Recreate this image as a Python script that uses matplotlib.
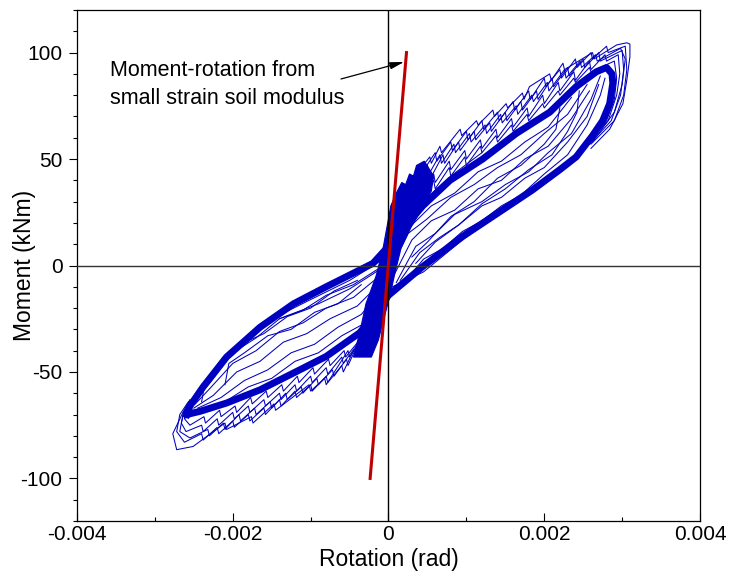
import matplotlib
matplotlib.use("Agg")
import matplotlib.pyplot as plt
import numpy as np
from matplotlib.ticker import MultipleLocator, FixedLocator, FixedFormatter

BLUE = "#0000c0"
RED = "#c00000"

plt.rcParams["font.family"] = ["Liberation Sans", "DejaVu Sans"]
plt.rcParams["axes.unicode_minus"] = False

# rotation in mrad, moment in kNm

# stable (repeated) loop - the thick band
band = [(-2.59, -70), (-2.55, -66), (-2.38, -57), (-2.08, -43), (-1.65, -29),
        (-1.22, -18), (-0.80, -10), (-0.20, 1), (0.00, 9), (0.44, 28),
        (0.79, 40), (1.21, 50), (1.64, 62), (2.07, 72), (2.41, 84),
        (2.67, 91), (2.80, 93), (2.87, 90), (2.88, 85.6), (2.84, 76),
        (2.75, 68), (2.62, 61), (2.41, 51), (2.20, 45), (1.85, 35.5),
        (1.60, 29.4), (0.95, 13.6), (0.44, -0.5), (0.00, -14), (-0.20, -24),
        (-0.37, -31.6), (-0.80, -42.7), (-1.22, -50.5), (-1.65, -58.4),
        (-2.08, -64.6), (-2.42, -68.5), (-2.59, -70)]

# dense small-amplitude cycles near the origin (outline)
core = [(-0.45, -43), (-0.36, -30), (-0.29, -18), (-0.16, -5), (-0.07, 8),
        (-0.02, 18), (0.03, 28), (0.10, 34), (0.17, 39), (0.22, 38),
        (0.27, 43), (0.32, 42), (0.36, 47), (0.46, 49), (0.58, 42),
        (0.55, 35), (0.45, 28), (0.29, 18), (0.16, 8), (0.08, -4),
        (0.02, -14), (-0.06, -25), (-0.13, -35), (-0.22, -43)]

# first large cycles, positive side (jagged loading curves)
jag_pos = [
    [(0.40, 31), (0.58, 40), (0.60, 36), (0.78, 46), (0.80, 42), (0.98, 51),
     (1.00, 47), (1.18, 56), (1.20, 53), (1.38, 61), (1.40, 58), (1.58, 66),
     (1.60, 63), (1.78, 71), (1.80, 68), (1.98, 76), (2.00, 74), (2.18, 82),
     (2.20, 80), (2.38, 88), (2.40, 86), (2.58, 93), (2.60, 91), (2.90, 96),
     (2.93, 88), (2.90, 78), (2.80, 68), (2.55, 57)],
    [(0.40, 34), (0.58, 43), (0.60, 39), (0.78, 49), (0.80, 45), (0.98, 54),
     (1.00, 50), (1.18, 59), (1.20, 55), (1.38, 64), (1.40, 60), (1.58, 69),
     (1.60, 65), (1.78, 74), (1.80, 70), (1.98, 80), (2.00, 76), (2.18, 86),
     (2.20, 82), (2.38, 91), (2.40, 87), (2.58, 96), (2.60, 92), (2.78, 99),
     (2.80, 96), (2.95, 99), (2.97, 90), (2.93, 80), (2.82, 68), (2.55, 57)],
    [(0.40, 38), (0.52, 45), (0.54, 41), (0.70, 52), (0.72, 48), (0.90, 58),
     (0.92, 54), (1.10, 63), (1.12, 59), (1.30, 67), (1.32, 63), (1.50, 72),
     (1.52, 68), (1.70, 77), (1.72, 73), (1.90, 82), (1.92, 78), (2.10, 88),
     (2.12, 84), (2.30, 93), (2.32, 89), (2.50, 97), (2.52, 93), (2.70, 100),
     (2.72, 96), (3.00, 101), (3.02, 92), (2.98, 80), (2.86, 68), (2.58, 57)],
    [(0.42, 40), (0.50, 47), (0.52, 43), (0.66, 52), (0.68, 48), (0.84, 57),
     (0.86, 53), (1.04, 62), (1.06, 58), (1.24, 66), (1.26, 62), (1.44, 71),
     (1.46, 67), (1.64, 75), (1.66, 71), (1.84, 80), (1.86, 77), (2.04, 86),
     (2.06, 82), (2.26, 92), (2.28, 88), (2.46, 96), (2.48, 93), (2.66, 99),
     (2.68, 96), (2.98, 102), (3.04, 97), (3.00, 85), (2.90, 72), (2.62, 58)],
    [(0.40, 42), (0.60, 53), (0.62, 49), (0.80, 58), (0.82, 54), (1.00, 63),
     (1.02, 59), (1.20, 68), (1.22, 64), (1.40, 72), (1.42, 68), (1.60, 77),
     (1.62, 73), (1.80, 82), (1.82, 78), (2.00, 88), (2.02, 84), (2.20, 92),
     (2.22, 88), (2.40, 97), (2.42, 93), (2.60, 100), (2.62, 97), (2.80, 103),
     (2.82, 100), (3.04, 103), (3.06, 92), (3.02, 80), (2.90, 68), (2.60, 57)],
    [(0.40, 45), (0.53, 51), (0.55, 48), (0.66, 56), (0.68, 53), (0.92, 64),
     (0.94, 61), (1.13, 68), (1.15, 66), (1.34, 73), (1.36, 70), (1.51, 76),
     (1.53, 74), (1.72, 81), (1.74, 78), (1.81, 84), (2.07, 90), (2.09, 87),
     (2.24, 95), (2.26, 92), (2.62, 100), (2.64, 97), (2.93, 103.6),
     (3.06, 104.6), (3.10, 104), (3.10, 98), (3.06, 87), (3.01, 76),
     (2.84, 64), (2.60, 55)],
]

# first large cycles, negative side
jag_neg = [
    [(-0.35, -34), (-0.55, -43), (-0.57, -40), (-0.75, -47), (-0.77, -44),
     (-0.95, -51), (-0.97, -48), (-1.15, -55), (-1.17, -52), (-1.35, -59),
     (-1.37, -56), (-1.55, -62), (-1.57, -59), (-1.75, -65), (-1.77, -62),
     (-1.95, -69), (-1.97, -66), (-2.15, -71), (-2.17, -68), (-2.35, -74),
     (-2.37, -71), (-2.55, -75), (-2.62, -72), (-2.58, -67)],
    [(-0.40, -37), (-0.58, -46), (-0.60, -43), (-0.78, -51), (-0.80, -48),
     (-0.98, -55), (-1.00, -52), (-1.18, -59), (-1.20, -56), (-1.38, -63),
     (-1.40, -60), (-1.58, -66), (-1.60, -63), (-1.78, -69), (-1.80, -66),
     (-1.98, -72), (-2.00, -69), (-2.18, -75), (-2.20, -72), (-2.38, -78),
     (-2.40, -75), (-2.60, -78), (-2.66, -74), (-2.62, -68), (-2.55, -64)],
    [(-0.42, -39), (-0.52, -47), (-0.54, -44), (-0.70, -52), (-0.72, -49),
     (-0.90, -56), (-0.92, -53), (-1.10, -60), (-1.12, -57), (-1.30, -63),
     (-1.32, -60), (-1.50, -67), (-1.52, -64), (-1.70, -70), (-1.72, -67),
     (-1.90, -73), (-1.92, -70), (-2.10, -77), (-2.12, -74), (-2.30, -80),
     (-2.32, -77), (-2.55, -81), (-2.68, -78), (-2.64, -70), (-2.56, -64)],
    [(-0.45, -40), (-0.58, -50), (-0.60, -47), (-0.78, -55), (-0.80, -52),
     (-0.98, -59), (-1.00, -56), (-1.18, -62), (-1.20, -59), (-1.38, -66),
     (-1.40, -63), (-1.58, -70), (-1.60, -67), (-1.78, -73), (-1.80, -70),
     (-1.98, -76), (-2.00, -73), (-2.18, -79), (-2.20, -76), (-2.38, -82),
     (-2.40, -79), (-2.62, -83), (-2.72, -78), (-2.68, -70), (-2.57, -64)],
    [(-0.37, -36), (-0.50, -43), (-0.52, -40), (-0.80, -56), (-0.82, -53),
     (-1.00, -59), (-1.02, -56), (-1.45, -68), (-1.47, -65), (-1.74, -74),
     (-1.76, -71), (-2.08, -77), (-2.10, -74), (-2.51, -85), (-2.72, -86.5),
     (-2.77, -79), (-2.64, -69), (-2.55, -63)],
]

# intermediate cycles inside the stable loop
inner_pos = [
    [(0.20, -8), (0.45, 3), (0.70, 8), (0.95, 16), (1.20, 21), (1.45, 28),
     (1.70, 33), (2.00, 43), (2.30, 52), (2.55, 66), (2.72, 80), (2.78, 88)],
    [(0.15, -7), (0.40, 6), (0.65, 13), (0.90, 19), (1.20, 28), (1.45, 32),
     (1.75, 41), (2.00, 46), (2.30, 58), (2.55, 70), (2.70, 85)],
    [(0.10, -8), (0.35, 9), (0.60, 15), (0.85, 24), (1.20, 30), (1.50, 38),
     (1.80, 44), (2.05, 53), (2.35, 62), (2.60, 78), (2.72, 89)],
    [(0.05, -6), (0.30, 12), (0.55, 21), (0.85, 26), (1.15, 36), (1.45, 40),
     (1.75, 50), (2.05, 56), (2.35, 69), (2.58, 82)],
    [(0.05, 0), (0.25, 15), (0.50, 22), (0.80, 32), (1.10, 38), (1.40, 46),
     (1.70, 52), (2.00, 62), (2.30, 71), (2.55, 85)],
    [(0.10, 8), (0.30, 19), (0.55, 28), (0.85, 34), (1.15, 44), (1.45, 49),
     (1.75, 58), (2.05, 65), (2.35, 79)],
    [(2.45, 82), (2.42, 72), (2.30, 63), (2.10, 52), (1.80, 45), (1.50, 36),
     (1.20, 29), (0.90, 19), (0.60, 11), (0.35, 1)],
    [(2.20, 74), (2.15, 64), (2.00, 57), (1.70, 47), (1.40, 41), (1.10, 30),
     (0.80, 23), (0.50, 11), (0.30, 4)],
]
inner_neg = [
    [(-0.15, -2), (-0.45, -9), (-0.80, -14), (-1.10, -21), (-1.40, -25),
     (-1.70, -34), (-2.00, -41), (-2.25, -53), (-2.45, -62)],
    [(-0.15, -6), (-0.45, -15), (-0.80, -20), (-1.10, -27), (-1.40, -31),
     (-1.70, -40), (-2.00, -46), (-2.30, -58), (-2.48, -65)],
    [(-0.10, -8), (-0.40, -19), (-0.75, -25), (-1.05, -32), (-1.35, -36),
     (-1.65, -45), (-1.95, -50), (-2.25, -61), (-2.50, -67)],
    [(-0.10, -12), (-0.35, -23), (-0.65, -29), (-0.95, -37), (-1.25, -41),
     (-1.55, -49), (-1.85, -54), (-2.15, -62), (-2.45, -67)],
    [(-0.15, -18), (-0.35, -28), (-0.60, -33), (-0.90, -41), (-1.20, -45),
     (-1.50, -53), (-1.80, -57), (-2.10, -64)],
    [(-2.40, -64), (-2.35, -54), (-2.20, -48), (-1.90, -37), (-1.60, -32),
     (-1.30, -24), (-1.00, -20), (-0.70, -12), (-0.40, -7)],
    [(-2.10, -56), (-2.05, -46), (-1.85, -41), (-1.55, -33), (-1.25, -30),
     (-0.95, -22), (-0.65, -18), (-0.35, -9)],
]

# extra strands fanning out of the stable loop near the origin
fan = [
    [(-1.60, -27), (-1.00, -16), (-0.50, -7), (-0.15, 1), (0.00, 5)],
    [(-1.40, -25), (-0.90, -18), (-0.50, -11), (-0.20, -4), (0.00, 1)],
    [(0.05, -10), (0.45, -3), (0.95, 12), (1.40, 24)],
    [(0.00, 14), (0.35, 27), (0.80, 42), (1.20, 53)],
]

# moment-rotation from small strain soil modulus
stiff_rot = [-0.236, 0.231]
stiff_mom = [-100, 100]

x_ticks = [-0.004, -0.002, 0, 0.002, 0.004]
x_labels = ["-0.004", "-0.002", "0", "0.002", "0.004"]
y_ticks = [-100, -50, 0, 50, 100]
y_labels = ["-100", "-50", "0", "50", "100"]


def _xy(path):
    a = np.array(path, dtype=float)
    return a[:, 0] / 1000.0, a[:, 1]


fig = plt.figure(figsize=(7.43, 5.74), dpi=100)
ax = fig.add_axes([77 / 743, 1 - 521 / 574, 623 / 743, 511 / 574])

cx, cy = _xy(core)
ax.fill(cx, cy, color=BLUE, lw=0.8)

for p in jag_pos + jag_neg + inner_pos + inner_neg + fan:
    x, y = _xy(p)
    ax.plot(x, y, color=BLUE, lw=0.75)

bx, by = _xy(band)
ax.plot(bx, by, color=BLUE, lw=5, solid_joinstyle="round")

ax.axhline(0, color="#333333", lw=1.0, zorder=3)
ax.axvline(0, color="black", lw=1.0, zorder=3)

ax.plot(np.array(stiff_rot) / 1000.0, stiff_mom, color=RED, lw=2.2, zorder=4)

ax.text(-0.00357, 89.1, "Moment-rotation from", fontsize=15.5, ha="left", va="baseline")
ax.text(-0.00357, 75.9, "small strain soil modulus", fontsize=15.5, ha="left", va="baseline")
ax.annotate("", xy=(0.0002, 95.6), xytext=(-0.00061, 87.6),
            arrowprops=dict(arrowstyle="-|>,head_length=0.6,head_width=0.15",
                            color="black", lw=0.9, mutation_scale=14,
                            shrinkA=0, shrinkB=0))

ax.set_xlim(-0.004, 0.004)
ax.set_ylim(-120, 120)
ax.xaxis.set_major_locator(FixedLocator(x_ticks))
ax.xaxis.set_major_formatter(FixedFormatter(x_labels))
ax.yaxis.set_major_locator(FixedLocator(y_ticks))
ax.yaxis.set_major_formatter(FixedFormatter(y_labels))
ax.xaxis.set_minor_locator(MultipleLocator(0.001))
ax.yaxis.set_minor_locator(MultipleLocator(10))

ax.tick_params(axis="x", which="major", direction="in", length=5.8, width=0.8,
               pad=3, labelsize=15)
ax.tick_params(axis="x", which="minor", direction="in", length=3, width=0.8)
ax.tick_params(axis="y", which="major", direction="out", length=5.5, width=0.8,
               pad=5, labelsize=15)
ax.tick_params(axis="y", which="minor", direction="out", length=3, width=0.8)
for s in ax.spines.values():
    s.set_linewidth(0.9)

ax.set_xlabel("Rotation (rad)", fontsize=16.5)
ax.set_ylabel("Moment (kNm)", fontsize=16.5)
ax.xaxis.set_label_coords(0.5, -0.053)
ax.yaxis.set_label_coords(-0.066, 0.5)

fig.savefig("out.png", dpi=100)
